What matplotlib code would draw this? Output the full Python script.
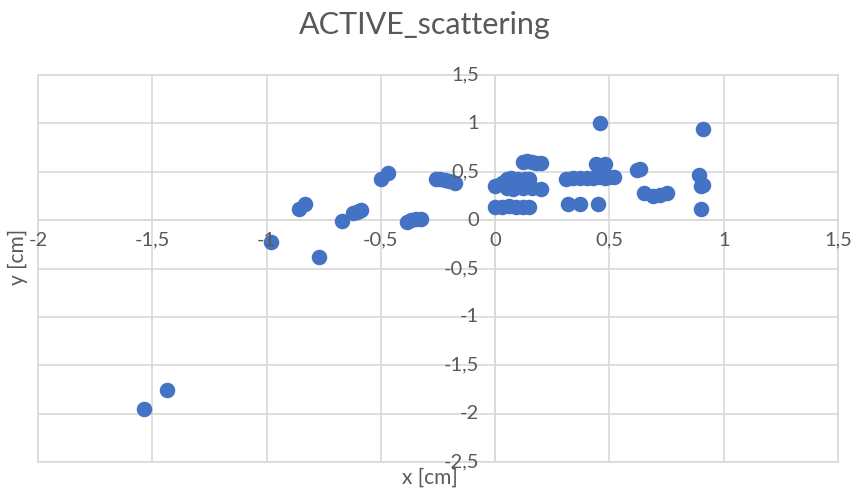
import matplotlib.pyplot as plt
from matplotlib.ticker import MultipleLocator

plt.rcParams['font.family'] = ['Lato', 'DejaVu Sans']

# scatter points (cm)
x_vals = [-1.535, -1.435, -0.98, -0.77,
          -0.86, -0.83, -0.67,
          -0.62, -0.605, -0.595, -0.585,
          -0.5, -0.47,
          -0.385, -0.37, -0.345, -0.325,
          -0.26, -0.24, -0.22, -0.2, -0.175,
          0.0, 0.03, 0.06, 0.09, 0.12, 0.15,
          0.0, 0.03, 0.05, 0.07, 0.1, 0.13, 0.15,
          0.05, 0.08, 0.12, 0.16, 0.2, 0.1, 0.14,
          0.12, 0.14, 0.16, 0.18, 0.2,
          0.46,
          0.31, 0.34, 0.37, 0.4, 0.43, 0.46, 0.48, 0.5, 0.52,
          0.44, 0.48,
          0.32, 0.37, 0.45,
          0.62, 0.635,
          0.65, 0.69, 0.72, 0.75,
          0.91, 0.89, 0.9, 0.91, 0.9]
y_vals = [-1.95, -1.76, -0.23, -0.38,
          0.12, 0.17, -0.01,
          0.07, 0.08, 0.09, 0.1,
          0.42, 0.49,
          -0.02, 0.0, 0.01, 0.01,
          0.43, 0.42, 0.41, 0.4, 0.38,
          0.14, 0.14, 0.15, 0.14, 0.14, 0.14,
          0.35, 0.38, 0.42, 0.44, 0.43, 0.43, 0.42,
          0.33, 0.32, 0.33, 0.33, 0.32, 0.38, 0.36,
          0.6, 0.61, 0.6, 0.59, 0.59,
          1.0,
          0.43, 0.44, 0.44, 0.44, 0.44, 0.45, 0.44, 0.45, 0.45,
          0.58, 0.58,
          0.17, 0.17, 0.17,
          0.52, 0.53,
          0.28, 0.25, 0.26, 0.28,
          0.94, 0.47, 0.35, 0.36, 0.12]

txt = '#595959'
grid = '#d9d9d9'

fig = plt.figure(figsize=(8.53, 4.96), dpi=100)
ax = fig.add_axes([38/853, 1-462/496, 800/853, 387/496])

ax.scatter(x_vals, y_vals, s=125, color='#4472c4', zorder=3, linewidths=0)

ax.set_xlim(-2, 1.5)
ax.set_ylim(-2.5, 1.5)
ax.xaxis.set_major_locator(MultipleLocator(0.5))
ax.yaxis.set_major_locator(MultipleLocator(0.5))
ax.grid(True, color=grid, linewidth=1.2, zorder=0)

# axes cross at the origin, Excel style
for side in ['top', 'right', 'bottom', 'left']:
    ax.spines[side].set_color(grid)
    ax.spines[side].set_linewidth(1.2)
ax.axhline(0, color=grid, linewidth=1.2, zorder=1)
ax.axvline(0, color=grid, linewidth=1.2, zorder=1)
ax.tick_params(length=0, labelbottom=False, labelleft=False)

fmt = lambda v: ('%g' % v).replace('.', ',')
for v in [-2, -1.5, -1, -0.5, 0, 0.5, 1, 1.5]:
    ax.text(v, -0.12, fmt(v), ha='center', va='top', fontsize=14.5, color=txt)
for v in [1.5, 1, 0.5, 0, -0.5, -1, -1.5, -2, -2.5]:
    ax.text(-0.07, v, fmt(v), ha='right', va='center', fontsize=14.5, color=txt)

fig.text(430/853, 1-478/496, 'x [cm]', ha='center', va='center', fontsize=15, color=txt)
fig.text(18/853, 1-257/496, 'y [cm]', ha='center', va='center', fontsize=15, color=txt, rotation=90)
fig.text(425/853, 1-25/496, 'ACTIVE_scattering', ha='center', va='center', fontsize=22, color=txt)

plt.savefig('out.png')
